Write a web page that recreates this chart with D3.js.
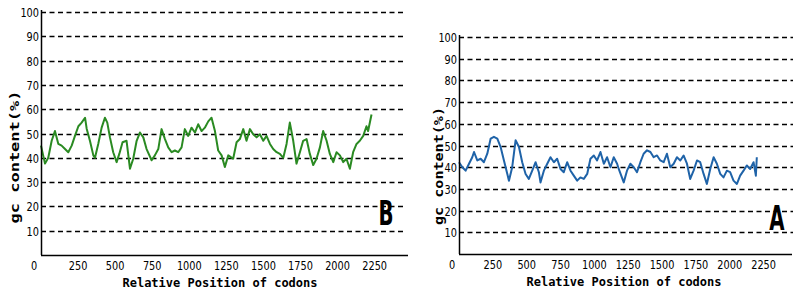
<!DOCTYPE html>
<html>
<head>
<meta charset="utf-8">
<script src="https://cdn.jsdelivr.net/npm/d3@7"></script>
<style>
  body { margin: 0; background: #fff; }
  .tick-label { font-family: "DejaVu Sans", sans-serif; font-size: 13px; fill: #000; }
  .axis-title { font-family: "DejaVu Sans Mono", "Liberation Mono", monospace; font-weight: bold; fill: #000; }
  .panel-tag { font-family: "DejaVu Sans", sans-serif; font-weight: bold; font-size: 34px; fill: #000; }
</style>
</head>
<body>
<div id="chart-area"></div>
<script>
// tick values
var xTicks = [0, 250, 500, 750, 1000, 1250, 1500, 1750, 2000, 2250];
var yTicks = [10, 20, 30, 40, 50, 60, 70, 80, 90, 100];

// panel B (green) - codon position / gc content (%)
var posB = [0, 27, 49, 72, 94, 117, 139, 162, 184, 207, 229, 252, 274, 297, 308, 330, 353, 364, 386, 409,
  431, 447, 465, 487, 510, 528, 550, 577, 600, 622, 645, 667, 690, 712, 746, 768, 791, 813, 836, 858,
  881, 903, 925, 948, 970, 993, 1015, 1038, 1060, 1083, 1105, 1128, 1150, 1173, 1195, 1218, 1240, 1263,
  1296, 1319, 1341, 1364, 1386, 1409, 1431, 1454, 1476, 1499, 1521, 1544, 1566, 1589, 1611, 1634, 1656,
  1678, 1701, 1723, 1746, 1768, 1791, 1813, 1836, 1858, 1881, 1903, 1926, 1948, 1971, 1993, 2016, 2038,
  2060, 2083, 2105, 2128, 2150, 2173, 2195, 2206, 2229];
var valB = [45, 37.6, 40, 47, 51, 45.7, 45, 43.6, 42.3, 45, 49, 53, 54.5, 56.5, 52, 47, 41, 40, 45.7, 52.4,
  56.5, 54.5, 48.4, 42.3, 38.2, 41.6, 46.4, 47, 35.5, 39.6, 47, 50.4, 48.4, 43.6, 39, 41, 43.6, 51.8, 47.7, 44.3,
  42.3, 43, 42.3, 44.3, 51.8, 49, 52.4, 50.4, 53.8, 51, 52.4, 55, 56.5, 51, 43, 41, 36.2, 41,
  39.6, 46.4, 47.7, 51.8, 47, 51.8, 49.7, 48.4, 49.7, 47, 49, 45.7, 43.6, 42.3, 41.6, 40, 45.7,
  54.5, 47, 37.6, 42.3, 47, 47.7, 41.6, 37, 39.6, 44.3, 51, 47, 41.6, 38.2, 42.3, 41, 38.2,
  39.6, 35.5, 42.3, 45.7, 47, 49, 53, 51, 57.8];

// panel A (blue)
var posA = [0, 25, 49, 74, 98, 111, 135, 160, 184, 209, 234, 258, 283, 307, 332, 357, 369, 393, 418, 443,
  467, 492, 516, 541, 566, 590, 602, 627, 652, 676, 701, 725, 750, 774, 799, 824, 848, 873, 897, 922,
  947, 971, 996, 1020, 1045, 1070, 1094, 1119, 1143, 1168, 1180, 1217, 1241, 1266, 1291, 1315, 1340,
  1364, 1389, 1414, 1438, 1463, 1487, 1512, 1536, 1561, 1586, 1610, 1635, 1659, 1684, 1708, 1733, 1758,
  1782, 1807, 1831, 1856, 1881, 1905, 1930, 1954, 1979, 2003, 2028, 2053, 2077, 2102, 2126, 2151, 2176,
  2193, 2200];
var valA = [42.3, 40, 38.4, 41.6, 44.6, 47, 43.1, 43.9, 42.3, 46.2, 53.2, 54, 53.2, 49.4, 43.1, 36.9, 33.8, 40, 52.4, 49.3,
  42.3, 36.9, 34.6, 38.4, 42.3, 37.7, 33, 38.4, 41.6, 44.6, 42.3, 43.9, 39.2, 37.7, 42.3, 38.4, 36.1, 33.8, 35.3, 34.6,
  36.9, 43.9, 45.4, 43.1, 47, 41.6, 44.6, 40, 44.6, 41.6, 39.2, 33, 38.4, 41.6, 40, 37.7, 42.3,
  46.2, 47.8, 47, 44.6, 45.4, 43.1, 42.3, 46.2, 40, 41.6, 44.6, 43.1, 45.4, 41.6, 34.6, 38.4, 43.1,
  42.3, 36.9, 32.3, 39.2, 44.6, 41.6, 36.9, 35.3, 38.4, 37.7, 33.8, 32.3, 36.1, 38.4, 40.8, 39.2, 42.3,
  36.1, 44.6];

var svg = d3.select("#chart-area")
  .append("svg")
  .attr("width", 800)
  .attr("height", 298);

function drawPanel(opt) {
  var x = d3.scaleLinear().domain([0, opt.xMax]).range([opt.left, opt.right]);
  var y = d3.scaleLinear().domain([0, 100]).range([opt.bottom, opt.top]);
  var g = svg.append("g");

  // dashed grid lines
  g.selectAll(".grid")
    .data(yTicks)
    .enter()
    .append("line")
    .attr("x1", opt.left)
    .attr("x2", opt.gridEnd)
    .attr("y1", d => Math.round(y(d)) + 0.5)
    .attr("y2", d => Math.round(y(d)) + 0.5)
    .attr("stroke", "#000")
    .attr("stroke-width", 1.6)
    .attr("stroke-dasharray", "5,3.5");

  // Y tick labels (narrow digits)
  g.selectAll(".ylab")
    .data(yTicks)
    .enter()
    .append("text")
    .attr("class", "tick-label")
    .attr("transform", d => "translate(" + (opt.left - 2) + "," + (y(d) + 5) + ") scale(0.75,1)")
    .attr("text-anchor", "end")
    .text(d => d);

  // X tick labels
  g.selectAll(".xlab")
    .data(xTicks)
    .enter()
    .append("text")
    .attr("class", "tick-label")
    .attr("transform", d => "translate(" + (x(d) - (d === 0 ? 7 : 0)) + "," + (opt.bottom + 15) + ") scale(0.75,1)")
    .attr("text-anchor", "middle")
    .text(d => d);

  // line
  var pts = opt.pos.map((p, i) => [p, opt.val[i]]);
  g.append("path")
    .datum(pts)
    .attr("fill", "none")
    .attr("stroke", opt.color)
    .attr("stroke-width", 2)
    .attr("stroke-linejoin", "round")
    .attr("d", d3.line().x(d => x(d[0])).y(d => y(d[1])));

  // axes lines
  g.append("line")
    .attr("x1", opt.left + 0.5).attr("x2", opt.left + 0.5)
    .attr("y1", opt.top - 2).attr("y2", opt.bottom)
    .attr("stroke", "#000").attr("stroke-width", 1.5);
  g.append("line")
    .attr("x1", opt.left).attr("x2", opt.right)
    .attr("y1", opt.bottom + 0.5).attr("y2", opt.bottom + 0.5)
    .attr("stroke", "#000").attr("stroke-width", 1.5);

  // axis titles
  g.append("text")
    .attr("class", "axis-title")
    .attr("x", opt.xTitleX)
    .attr("y", opt.bottom + 32)
    .attr("text-anchor", "middle")
    .attr("font-size", "12px")
    .text("Relative Position of codons");

  g.append("text")
    .attr("class", "axis-title")
    .attr("transform", "translate(" + opt.yTitleX + "," + opt.yTitleY + ") rotate(-90)")
    .attr("text-anchor", "middle")
    .attr("font-size", "13px")
    .attr("textLength", opt.yTitleLen)
    .attr("lengthAdjust", "spacingAndGlyphs")
    .text("gc content(%)");

  // panel letter (tall and narrow)
  g.append("text")
    .attr("class", "panel-tag")
    .attr("transform", "translate(" + opt.tagX + "," + opt.tagY + ") scale(0.58,1)")
    .attr("text-anchor", "middle")
    .text(opt.tag);
}

drawPanel({ left: 41, right: 408, gridEnd: 406, top: 12, bottom: 255, xMax: 2475,
  pos: posB, val: valB, color: "#2a8a22", xTitleX: 220, yTitleX: 19, yTitleY: 157, yTitleLen: 133,
  tag: "B", tagX: 386, tagY: 225 });

drawPanel({ left: 459, right: 792, gridEnd: 793, top: 37, bottom: 254, xMax: 2460,
  pos: posA, val: valA, color: "#1f63a8", xTitleX: 624, yTitleX: 443, yTitleY: 166, yTitleLen: 118,
  tag: "A", tagX: 777, tagY: 230 });
</script>
</body>
</html>
